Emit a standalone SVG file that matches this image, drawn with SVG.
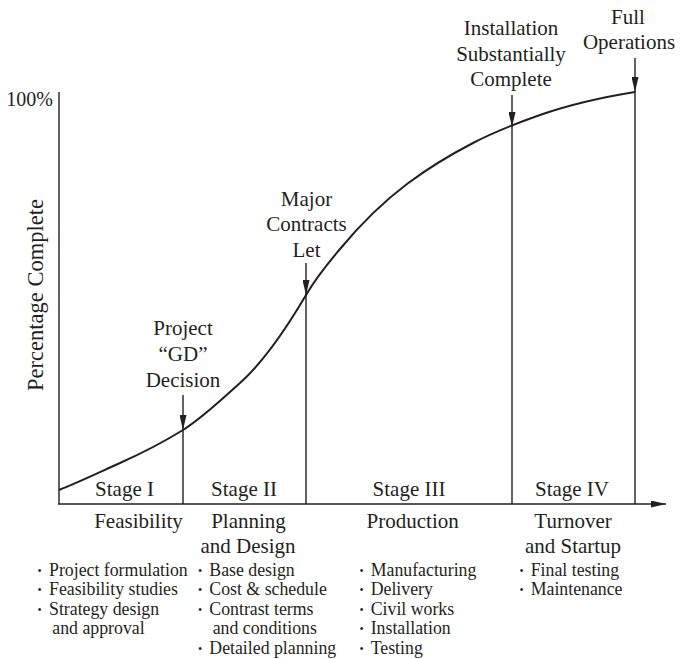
<svg xmlns="http://www.w3.org/2000/svg" width="680" height="659" viewBox="0 0 680 659">
<defs>
<style>
text{font-family:"Liberation Serif","Times New Roman",serif;fill:#231f20}
.lbl{font-size:21px;text-anchor:middle}
.bl{font-size:17.8px}
.bu{font-size:12px}
.ln{stroke:#231f20;stroke-width:1.4;fill:none}
.cv{stroke:#231f20;stroke-width:2;fill:none}
</style>
<marker id="ah" markerWidth="15" markerHeight="7" refX="15" refY="3.5" orient="auto" markerUnits="userSpaceOnUse">
<path d="M0,0 L15,3.5 L0,7 Z" fill="#231f20"/>
</marker>
</defs>
<rect width="680" height="659" fill="#fff"/>

<g id="axes">
<line class="ln" x1="59" y1="92" x2="59" y2="504.5"/>
<line class="ln" x1="58.3" y1="504" x2="666" y2="504" marker-end="url(#ah)"/>
<text x="53" y="106" style="font-size:20px;text-anchor:end">100%</text>
<text transform="translate(42.5,295) rotate(-90)" style="font-size:22.5px;text-anchor:middle">Percentage Complete</text>
</g>

<g id="curve">
<path class="cv" d="M59,490 C79.3,481.9 99.7,472.1 120,463 C141,453.6 162,443 183,430 C202,418.2 221,400.1 240,383 C262,363.2 284,332.4 306,295 C317.3,275.7 328.7,262.6 340,249 C362.3,222.2 384.7,200.7 407,184 C429,167.5 451,154.4 473,143 C495.3,131.4 517.7,122.8 540,115 C571.7,103.9 603.3,97.1 635,92"/>
</g>

<g id="connectors">
<line class="ln" x1="183" y1="395" x2="183" y2="430" marker-end="url(#ah)"/>
<line class="ln" x1="306" y1="263" x2="306" y2="295" marker-end="url(#ah)"/>
<line class="ln" x1="512" y1="95" x2="512" y2="127" marker-end="url(#ah)"/>
<line class="ln" x1="635" y1="58" x2="635" y2="92" marker-end="url(#ah)"/>
<line class="ln" x1="183" y1="429" x2="183" y2="504"/>
<line class="ln" x1="306" y1="294" x2="306" y2="504"/>
<line class="ln" x1="512" y1="126" x2="512" y2="504"/>
<line class="ln" x1="635" y1="91" x2="635" y2="504"/>
</g>

<g id="m-project">
<text class="lbl" x="183" y="335">Project</text>
<text class="lbl" x="183" y="361">“GD”</text>
<text class="lbl" x="183" y="387">Decision</text>
</g>
<g id="m-contracts">
<text class="lbl" x="306.5" y="205.5">Major</text>
<text class="lbl" x="306.5" y="231">Contracts</text>
<text class="lbl" x="306.5" y="256.5">Let</text>
</g>
<g id="m-installation">
<text class="lbl" x="511" y="35">Installation</text>
<text class="lbl" x="511" y="61">Substantially</text>
<text class="lbl" x="511" y="86">Complete</text>
</g>
<g id="m-full">
<text class="lbl" x="628" y="23.5">Full</text>
<text class="lbl" x="629" y="49">Operations</text>
</g>

<g id="stage1">
<text class="lbl" x="124.5" y="496">Stage I</text>
<text class="lbl" x="138.5" y="528">Feasibility</text>
<text class="bl" x="37.5" y="574.5"><tspan class="bu">•</tspan><tspan x="49" dy="1">Project formulation</tspan></text>
<text class="bl" x="37.5" y="594"><tspan class="bu">•</tspan><tspan x="49" dy="1">Feasibility studies</tspan></text>
<text class="bl" x="37.5" y="613.5"><tspan class="bu">•</tspan><tspan x="49" dy="1">Strategy design</tspan></text>
<text class="bl" x="52.3" y="634">and approval</text>
</g>

<g id="stage2">
<text class="lbl" x="244" y="496">Stage II</text>
<text class="lbl" x="248.5" y="528">Planning</text>
<text class="lbl" x="248" y="552.7">and Design</text>
<text class="bl" x="198" y="574.5"><tspan class="bu">•</tspan><tspan x="209.3" dy="1">Base design</tspan></text>
<text class="bl" x="198" y="594"><tspan class="bu">•</tspan><tspan x="209.3" dy="1">Cost &amp; schedule</tspan></text>
<text class="bl" x="198" y="613.5"><tspan class="bu">•</tspan><tspan x="209.3" dy="1">Contrast terms</tspan></text>
<text class="bl" x="212.7" y="634">and conditions</text>
<text class="bl" x="198" y="652.5"><tspan class="bu">•</tspan><tspan x="209.3" dy="1">Detailed planning</tspan></text>
</g>

<g id="stage3">
<text class="lbl" x="409" y="496">Stage III</text>
<text class="lbl" x="412.7" y="528">Production</text>
<text class="bl" x="359.5" y="574.5"><tspan class="bu">•</tspan><tspan x="370.7" dy="1">Manufacturing</tspan></text>
<text class="bl" x="359.5" y="594"><tspan class="bu">•</tspan><tspan x="370.7" dy="1">Delivery</tspan></text>
<text class="bl" x="359.5" y="613.5"><tspan class="bu">•</tspan><tspan x="370.7" dy="1">Civil works</tspan></text>
<text class="bl" x="359.5" y="633"><tspan class="bu">•</tspan><tspan x="370.7" dy="1">Installation</tspan></text>
<text class="bl" x="359.5" y="652.5"><tspan class="bu">•</tspan><tspan x="370.7" dy="1">Testing</tspan></text>
</g>

<g id="stage4">
<text class="lbl" x="572" y="496">Stage IV</text>
<text class="lbl" x="573" y="528">Turnover</text>
<text class="lbl" x="573" y="552.7">and Startup</text>
<text class="bl" x="519.5" y="574.5"><tspan class="bu">•</tspan><tspan x="530.7" dy="1">Final testing</tspan></text>
<text class="bl" x="519.5" y="594"><tspan class="bu">•</tspan><tspan x="530.7" dy="1">Maintenance</tspan></text>
</g>
</svg>
